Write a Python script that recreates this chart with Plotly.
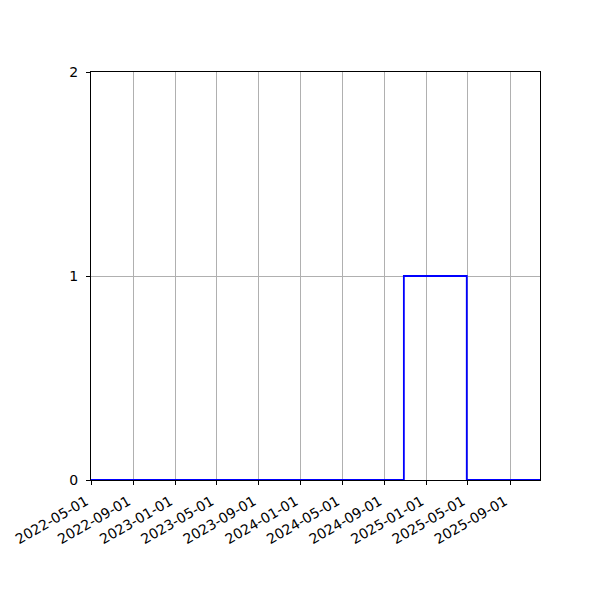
import plotly.graph_objects as go

# step data: value changes at these dates (steps-post)
dates = ['2022-05-01', '2024-10-27', '2025-04-28', '2025-11-27']
values = [0, 1, 0, 0]

x_ticks = ['2022-05-01', '2022-09-01', '2023-01-01', '2023-05-01', '2023-09-01',
           '2024-01-01', '2024-05-01', '2024-09-01', '2025-01-01', '2025-05-01',
           '2025-09-01']
y_ticks = [0, 1, 2]

fig = go.Figure()
fig.add_trace(go.Scatter(x=dates, y=values, mode='lines', line_shape='hv',
                         line=dict(color='blue', width=1.8), showlegend=False))

fig.update_layout(width=600, height=600, plot_bgcolor='white', paper_bgcolor='white',
                  margin=dict(l=83, r=68, t=64, b=128, autoexpand=False),
                  font=dict(family='DejaVu Sans', size=14, color='black'))
fig.update_xaxes(range=['2022-05-01', '2025-11-27'], tickvals=x_ticks, ticktext=x_ticks,
                 tickangle=-30, ticks='outside', ticklen=4, tickcolor='black',
                 ticklabelshift=-5, ticklabelstandoff=3, automargin=False,
                 showline=True, linecolor='black', linewidth=1, mirror=True,
                 showgrid=True, gridcolor='#b0b0b0', gridwidth=1, zeroline=False)
fig.update_yaxes(range=[0, 2], tickvals=y_ticks, ticks='outside', ticklen=4, tickcolor='black',
                 ticklabelstandoff=5, automargin=False,
                 showline=True, linecolor='black', linewidth=1, mirror=True,
                 showgrid=True, gridcolor='#b0b0b0', gridwidth=1, zeroline=False)

fig.write_html("out.html")
